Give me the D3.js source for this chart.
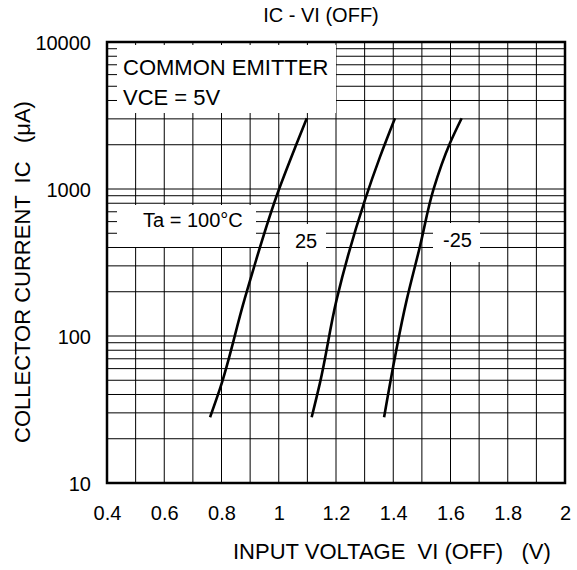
<!DOCTYPE html>
<html>
<head>
<meta charset="utf-8">
<script src="https://cdn.jsdelivr.net/npm/d3@7"></script>
<style>
  html, body { margin: 0; padding: 0; background: #fff; }
  svg { display: block; font-family: "Liberation Sans", Arial, sans-serif; }
  text { white-space: pre; }
</style>
</head>
<body>
<svg id="chart" width="577" height="570"></svg>
<script>
// ---- data ----
const xTickLabels = [0.4, 0.6, 0.8, 1.0, 1.2, 1.4, 1.6, 1.8, 2.0];
const yTickLabels = [10, 100, 1000, 10000];

const seriesNames = ["Ta = 100°C", "25", "-25"];
const v100 = [0.76, 0.795, 0.88, 1.0, 1.063, 1.098];
const i100 = [28, 44, 176, 985, 2046, 3030];
const v25 = [1.115, 1.144, 1.202, 1.301, 1.354, 1.406];
const i25 = [28, 48, 176, 841, 1660, 3030];
const vm25 = [1.368, 1.447, 1.493, 1.54, 1.598, 1.639];
const im25 = [28, 176, 405, 985, 2046, 3030];

const title = "IC - VI (OFF)";
const xTitle = "INPUT VOLTAGE  VI (OFF)   (V)";
const yTitle = "COLLECTOR CURRENT  IC   (μA)";
const noteLines = ["COMMON EMITTER", "VCE = 5V"];

// ---- layout ----
const L = 107, R = 565, T = 42, B = 483;
const svg = d3.select("#chart");
const x = d3.scaleLinear().domain([0.4, 2.0]).range([L, R]);
const y = d3.scaleLog().domain([10, 10000]).range([B, T]);

// grid
const g = svg.append("g");
const xGrid = x.ticks(16);
const yGrid = y.ticks();
g.selectAll("line.vx").data(xGrid).join("line")
  .attr("x1", d => x(d)).attr("x2", d => x(d))
  .attr("y1", T).attr("y2", B)
  .attr("stroke", "#000").attr("stroke-width", 1);
g.selectAll("line.hy").data(yGrid).join("line")
  .attr("x1", L).attr("x2", R)
  .attr("y1", d => y(d)).attr("y2", d => y(d))
  .attr("stroke", "#000").attr("stroke-width", 1);

// white label boxes covering the grid
const boxes = [
  {x0: 117, y0: 45, x1: 336, y1: 113},
  {x0: 117, y0: 205, x1: 256, y1: 247},
  {x0: 280, y0: 224, x1: 326, y1: 262},
  {x0: 433, y0: 223, x1: 480, y1: 262}
];
svg.selectAll("rect.box").data(boxes).join("rect")
  .attr("x", d => d.x0).attr("y", d => d.y0)
  .attr("width", d => d.x1 - d.x0).attr("height", d => d.y1 - d.y0)
  .attr("fill", "#fff");

// note text
svg.selectAll("text.note").data(noteLines).join("text")
  .attr("x", 123).attr("y", (d, i) => 75 + i * 30)
  .attr("font-size", 22).attr("fill", "#000").text(d => d);

// series labels
const labelPos = [[143, 227], [295, 248], [443, 247]];
svg.selectAll("text.slab").data(seriesNames).join("text")
  .attr("x", (d, i) => labelPos[i][0]).attr("y", (d, i) => labelPos[i][1])
  .attr("font-size", 20).attr("fill", "#000").text(d => d);

// curves
const series = [
  v100.map((v, i) => [v, i100[i]]),
  v25.map((v, i) => [v, i25[i]]),
  vm25.map((v, i) => [v, im25[i]])
];
const line = d3.line().x(d => x(d[0])).y(d => y(d[1])).curve(d3.curveMonotoneY);
svg.selectAll("path.curve").data(series).join("path")
  .attr("d", line).attr("fill", "none")
  .attr("stroke", "#000").attr("stroke-width", 2.6);

// frame
svg.append("rect").attr("x", L).attr("y", T)
  .attr("width", R - L).attr("height", B - T)
  .attr("fill", "none").attr("stroke", "#000").attr("stroke-width", 2.5);

// axes tick labels
const xAxis = d3.axisBottom(x).tickValues(xTickLabels).tickSize(0).tickPadding(0)
  .tickFormat(d3.format("~g"));
const xa = svg.append("g").attr("transform", `translate(0,${B})`).call(xAxis);
xa.select(".domain").remove();
xa.selectAll("text").attr("font-size", 20).attr("font-family", "Liberation Sans, Arial, sans-serif")
  .attr("fill", "#000").attr("dy", null).attr("y", 37);

const yAxis = d3.axisLeft(y).tickValues(yTickLabels).tickSize(0).tickPadding(0)
  .tickFormat(d3.format("d"));
const ya = svg.append("g").attr("transform", `translate(91,0)`).call(yAxis);
ya.select(".domain").remove();
ya.selectAll("text").attr("font-size", 20).attr("font-family", "Liberation Sans, Arial, sans-serif")
  .attr("fill", "#000").attr("dy", "0.35em");

// titles
svg.append("text").attr("x", 321).attr("y", 22).attr("text-anchor", "middle")
  .attr("font-size", 20).attr("fill", "#000").text(title);
svg.append("text").attr("x", 233).attr("y", 559)
  .attr("font-size", 22).attr("fill", "#000").text(xTitle);
svg.append("text").attr("transform", "translate(30,443) rotate(-90)")
  .attr("font-size", 22).attr("fill", "#000").text(yTitle);
</script>
</body>
</html>
